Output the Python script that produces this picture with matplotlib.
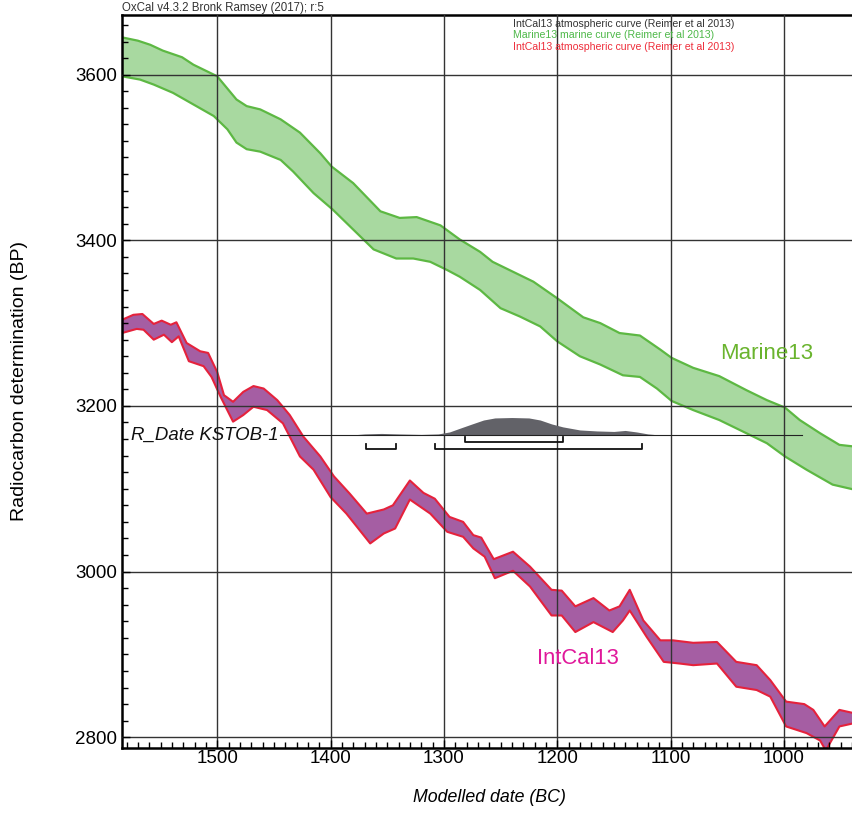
import numpy as np
import matplotlib
matplotlib.use("Agg")
import matplotlib.pyplot as plt
from matplotlib.ticker import MultipleLocator

plt.rcParams['font.family'] = ['Liberation Sans', 'DejaVu Sans']

# Marine13 - gorna i dolna krawedz pasa (lata BC, BP)
marine_gora_lata = [1584, 1570, 1559, 1548, 1531, 1521, 1500, 1483, 1474, 1462, 1444, 1427, 1409, 1399,
                    1380, 1356, 1339, 1324, 1303, 1286, 1268, 1257, 1239, 1221, 1200, 1177, 1162, 1145,
                    1127, 1109, 1099, 1080, 1057, 1033, 1015, 999, 986, 968, 951, 938]
marine_gora_bp = [3645, 3641, 3636, 3629, 3621, 3612, 3598, 3570, 3562, 3558, 3546, 3530, 3505, 3489,
                  3469, 3435, 3427, 3428, 3418, 3401, 3386, 3374, 3362, 3350, 3330, 3307, 3300, 3288,
                  3285, 3268, 3258, 3246, 3236, 3219, 3207, 3198, 3183, 3167, 3153, 3151]
marine_dol_lata = [1584, 1568, 1556, 1539, 1521, 1503, 1491, 1483, 1474, 1462, 1444, 1433, 1415, 1398,
                   1380, 1362, 1342, 1327, 1312, 1297, 1286, 1268, 1250, 1233, 1215, 1200, 1180, 1162,
                   1142, 1127, 1112, 1099, 1080, 1057, 1033, 1015, 999, 980, 957, 938]
marine_dol_bp = [3598, 3594, 3588, 3578, 3564, 3550, 3534, 3518, 3510, 3507, 3497, 3483, 3457, 3437,
                 3413, 3389, 3378, 3378, 3374, 3364, 3356, 3340, 3318, 3308, 3296, 3278, 3260, 3250,
                 3237, 3235, 3221, 3206, 3195, 3183, 3167, 3155, 3139, 3123, 3105, 3099]

# IntCal13
intcal_gora_lata = [1584, 1574, 1566, 1556, 1549, 1541, 1536, 1527, 1515, 1508, 1500, 1494, 1486, 1477,
                    1468, 1459, 1447, 1436, 1424, 1409, 1397, 1383, 1368, 1353, 1345, 1330, 1318, 1308,
                    1295, 1283, 1274, 1267, 1256, 1239, 1224, 1205, 1196, 1184, 1168, 1154, 1145, 1136,
                    1124, 1109, 1098, 1080, 1059, 1042, 1024, 1012, 998, 982, 974, 964, 951, 938]
intcal_gora_bp = [3304, 3310, 3311, 3299, 3303, 3298, 3301, 3276, 3266, 3264, 3241, 3213, 3205, 3217,
                  3224, 3221, 3207, 3189, 3163, 3139, 3115, 3094, 3070, 3075, 3080, 3110, 3095, 3088,
                  3066, 3060, 3044, 3041, 3015, 3024, 3006, 2978, 2977, 2958, 2968, 2953, 2958, 2978,
                  2941, 2917, 2917, 2914, 2915, 2891, 2887, 2869, 2843, 2840, 2833, 2813, 2833, 2829]
intcal_dol_lata = [1584, 1571, 1565, 1556, 1547, 1540, 1534, 1525, 1512, 1505, 1497, 1486, 1477, 1468,
                   1456, 1442, 1427, 1415, 1400, 1386, 1365, 1353, 1343, 1330, 1312, 1297, 1283, 1274,
                   1264, 1255, 1239, 1224, 1205, 1196, 1184, 1168, 1151, 1142, 1136, 1121, 1106, 1092,
                   1080, 1059, 1042, 1024, 1012, 998, 980, 968, 963, 951, 938]
intcal_dol_bp = [3288, 3293, 3292, 3280, 3286, 3277, 3284, 3254, 3248, 3235, 3211, 3181, 3189, 3199,
                 3195, 3179, 3139, 3123, 3090, 3070, 3034, 3046, 3052, 3087, 3070, 3048, 3042, 3028,
                 3018, 2992, 3001, 2982, 2947, 2947, 2927, 2939, 2927, 2941, 2953, 2921, 2891, 2889,
                 2887, 2889, 2861, 2857, 2849, 2813, 2805, 2796, 2784, 2813, 2817]

# R_Date KSTOB-1
rdate_bp = 3165
rdate_zakres = [1445, 984]
rozklad_lata = [1381, 1370, 1355, 1340, 1320, 1305, 1295, 1285, 1275, 1265, 1255, 1240, 1225, 1215,
                1205, 1195, 1180, 1165, 1150, 1140, 1130, 1120, 1110]
rozklad_wys = [0, 1.2, 1.8, 1.2, 0.6, 1.2, 3.6, 8.5, 13.3, 18, 20.5, 21, 20.5, 18,
               13.3, 9.7, 6, 4.8, 4.2, 5.4, 3.6, 1.2, 0]
zakresy68 = [(1281, 1195)]
zakresy95 = [(1369, 1342), (1308, 1125)]

legenda = ['IntCal13 atmospheric curve (Reimer et al 2013)',
           'Marine13 marine curve (Reimer et al 2013)',
           'IntCal13 atmospheric curve (Reimer et al 2013)']
legenda_kolory = ['#333333', '#4db848', '#ee2d3a']

fig = plt.figure(figsize=(8.53, 8.13), dpi=100)
ax = fig.add_axes([122/853, 65/813, 1 - 122/853, 733/813])

# pasy krzywych
ax.fill(np.r_[marine_gora_lata, marine_dol_lata[::-1]], np.r_[marine_gora_bp, marine_dol_bp[::-1]],
        color='#a8d9a0', lw=0, zorder=1)
ax.plot(marine_gora_lata, marine_gora_bp, color='#5db843', lw=1.6, zorder=2)
ax.plot(marine_dol_lata, marine_dol_bp, color='#5db843', lw=1.6, zorder=2)

ax.fill(np.r_[intcal_gora_lata, intcal_dol_lata[::-1]], np.r_[intcal_gora_bp, intcal_dol_bp[::-1]],
        color='#a55ea3', lw=0, zorder=1)
ax.plot(intcal_gora_lata, intcal_gora_bp, color='#e5223c', lw=1.5, zorder=2)
ax.plot(intcal_dol_lata, intcal_dol_bp, color='#e5223c', lw=1.5, zorder=2)

# rozklad daty
ax.fill_between(rozklad_lata, rdate_bp, rdate_bp + np.array(rozklad_wys), color='#626268', lw=0, zorder=3)
ax.plot(rdate_zakres, [rdate_bp, rdate_bp], color='#222222', lw=0.8, zorder=3)
for a, b in zakresy68:
    ax.plot([a, a, b, b], [rdate_bp - 3, rdate_bp - 8.5, rdate_bp - 8.5, rdate_bp - 3], color='#111111', lw=1.3, zorder=3)
for a, b in zakresy95:
    ax.plot([a, a, b, b], [rdate_bp - 11, rdate_bp - 16.5, rdate_bp - 16.5, rdate_bp - 11], color='#111111', lw=1.3, zorder=3)

ax.text(1576, 3164, 'R_Date KSTOB-1', fontsize=13.4, style='italic', ha='left', va='center', color='#111111')
ax.text(1056, 3263, 'Marine13', fontsize=16, color='#6ab42e', ha='left', va='center')
ax.text(1218, 2895, 'IntCal13', fontsize=15.8, color='#e0189a', ha='left', va='center')

ax.set_xlim(1584, 939)
ax.set_ylim(2787, 3672)
ax.xaxis.set_major_locator(MultipleLocator(100))
ax.xaxis.set_minor_locator(MultipleLocator(10))
ax.yaxis.set_major_locator(MultipleLocator(200))
ax.yaxis.set_minor_locator(MultipleLocator(20))
ax.tick_params(which='both', direction='in', top=False, right=False, width=1.0, labelsize=13.5)
ax.tick_params(which='major', length=6)
ax.tick_params(which='minor', length=4)
ax.tick_params(axis='y', pad=3.6)
ax.tick_params(axis='x', pad=1.5)
ax.grid(True, which='major', color='#333333', lw=1.0)
ax.set_axisbelow(False)
for s in ['left', 'bottom', 'top']:
    ax.spines[s].set_linewidth(1.8)
ax.spines['right'].set_visible(False)

fig.text(489/853, 1 - 797/813, 'Modelled date (BC)', fontsize=12.8, style='italic', ha='center', va='center')
fig.text(20/853, 1 - 381/813, 'Radiocarbon determination (BP)', fontsize=14, rotation=90, ha='center', va='center')

fig.text(122/853, 1 - 14/813, 'OxCal v4.3.2 Bronk Ramsey (2017); r:5', fontsize=8.3, color='#333333', ha='left', va='bottom')
for i, (t, k) in enumerate(zip(legenda, legenda_kolory)):
    fig.text(513/853, 1 - (24 + 11.5*i)/813, t, fontsize=7.6, color=k, va='center')

plt.savefig('out.png', dpi=100)
